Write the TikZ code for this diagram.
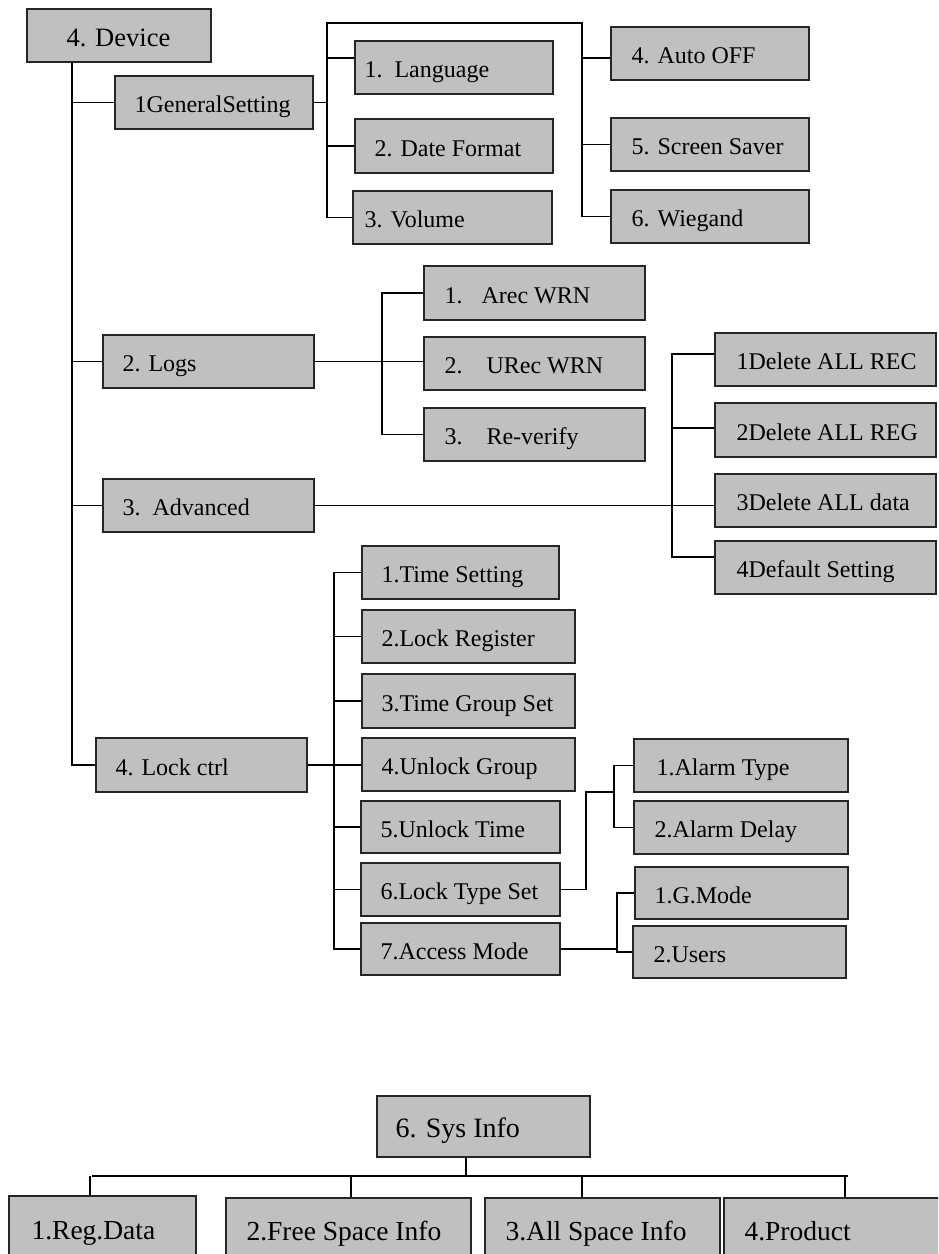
\documentclass[tikz,border=0pt]{standalone}
\usepackage{fontspec}
\setmainfont{Liberation Serif}
\definecolor{boxgray}{RGB}{192,192,192}
\tikzset{
  bx/.style={draw=black!85, fill=boxgray, line width=1.3pt, inner sep=0pt},
  lbl/.style={inner sep=0pt, font=\fontsize{24}{28}\selectfont},
  con/.style={line width=1.1pt, black},
  conb/.style={line width=1.7pt, black},
}
% name, x1, y1, x2, y2, inset, text, baseline offset, label style
\newcommand\gbox[9]{%
  \node[bx, minimum width={(#4-#2)*1pt}, minimum height={(#5-#3)*1pt}] (#1) at ({(#2+#4)/2},{(#3+#5)/2}) {};
  \node[lbl, anchor=base west, #9] (#1t) at ([xshift=#6pt, yshift={-(#8)*1pt}]#1.west) {#7};}
\begin{document}
\begin{tikzpicture}[x=1pt, y=-1pt]
\useasboundingbox (0,0) rectangle (938,1254);
\clip (0,0) rectangle (938,1254);
% boxes
\gbox{dev}{27}{9}{211}{62}{40}{4. Device}{10.5}{font=\fontsize{26.5}{30}\selectfont}
\gbox{gs}{115}{76}{313}{129}{20}{1GeneralSetting}{10}{}
\gbox{lang}{355}{41}{553}{94}{10}{1.~~Language}{10}{}
\gbox{date}{355}{119}{553}{173}{20}{2. Date Format}{10}{}
\gbox{vol}{353}{191}{552}{244}{12}{3. Volume}{10}{}
\gbox{auto}{611}{27}{809}{80}{21}{4. Auto OFF}{10}{}
\gbox{scr}{611}{118}{809}{171}{21}{5. Screen Saver}{10}{}
\gbox{wie}{611}{190}{809}{243}{21}{6. Wiegand}{10}{}
\gbox{logs}{103}{335}{314}{388}{20}{2. Logs}{10}{}
\gbox{arec}{424}{266}{645}{320}{21}{1.\hspace{19pt}Arec WRN}{10}{}
\gbox{urec}{424}{337}{645}{390}{21}{2.\hspace{24pt}URec WRN}{10}{}
\gbox{rev}{424}{408}{645}{461}{21}{3.\hspace{24pt}Re-verify}{10}{}
\gbox{adv}{103}{479}{314}{532}{20}{3.~~Advanced}{10}{}
\gbox{drec}{715}{333}{936}{386}{22}{1Delete ALL REC}{10}{}
\gbox{dreg}{715}{403}{936}{457}{22}{2Delete ALL REG}{10}{}
\gbox{ddat}{715}{474}{936}{527}{22}{3Delete ALL data}{10}{}
\gbox{ddef}{715}{541}{936}{594}{22}{4Default Setting}{10}{}
\gbox{lock}{96}{738}{307}{792}{20}{4. Lock ctrl}{10}{}
\gbox{ts}{362}{546}{559}{599}{20}{1.Time Setting}{10}{}
\gbox{lr}{362}{610}{575}{663}{20}{2.Lock Register}{10}{}
\gbox{tg}{362}{674}{575}{728}{20}{3.Time Group Set}{10}{}
\gbox{ug}{362}{738}{575}{791}{20}{4.Unlock Group}{10}{}
\gbox{ut}{361}{801}{560}{853}{20}{5.Unlock Time}{10}{}
\gbox{lts}{361}{863}{560}{916}{20}{6.Lock Type Set}{10}{}
\gbox{am}{361}{923}{560}{975}{20}{7.Access Mode}{10}{}
\gbox{atype}{634}{739}{848}{792}{23}{1.Alarm Type}{10}{}
\gbox{adelay}{634}{801}{848}{854}{21}{2.Alarm Delay}{10}{}
\gbox{gm}{635}{867}{848}{919}{20}{1.G.Mode}{10}{}
\gbox{us}{633}{926}{846}{978}{21}{2.Users}{10}{}
\gbox{si}{377}{1096}{590}{1157}{19}{6. Sys Info}{10.5}{font=\fontsize{28}{32}\selectfont}
\gbox{rd}{9}{1196}{196}{1290}{23}{1.Reg.Data}{-4}{font=\fontsize{27.5}{31}\selectfont}
\gbox{fsp}{226}{1198}{471}{1290}{21}{2.Free Space Info}{-4}{font=\fontsize{27.5}{31}\selectfont}
\gbox{asp}{485}{1198}{720}{1290}{21}{3.All Space Info}{-4}{font=\fontsize{27.5}{31}\selectfont}
\gbox{prod}{724}{1198}{960}{1290}{21}{4.Product}{-4}{font=\fontsize{27.5}{31}\selectfont}
% trunk
\coordinate (tr) at (72,0);
\draw[con] (dev.south -| tr) |- (lock.west);
\foreach \n in {gs,logs,adv} \draw[con] (tr |- \n.west) -- (\n.west);
% general setting
\coordinate (gl) at (327,23);
\coordinate (gr) at (582,23);
\coordinate (g58) at (0,58);
\draw[con] (gs.east) -- (gs.east -| gl);
\draw[con] (gl |- vol.west) -- (gl) -- (gr) -- (gr |- wie.west);
\draw[con] (gl |- g58) -- (lang.west |- g58);
\draw[con] (gl |- date.west) -- (date.west);
\draw[con] (gl |- vol.west) -- (vol.west);
\draw[con] (gr |- g58) -- (auto.west |- g58);
\draw[con] (gr |- scr.west) -- (scr.west);
\draw[con] (gr |- wie.west) -- (wie.west);
% logs
\coordinate (lb) at (382,0);
\draw[conb] (logs.east) -- (logs.east -| urec.west);
\draw[conb] (arec.west) -- (arec.west -| lb) -- (lb |- rev.west) -- (rev.west);
% advanced
\coordinate (ab1) at (672,354);
\coordinate (ab2) at (672,428);
\coordinate (ab4) at (672,557);
\draw[conb] (adv.east) -- (adv.east -| ddat.west);
\draw[conb] (ab1 -| drec.west) -- (ab1) -- (ab4) -- (ab4 -| ddef.west);
\draw[conb] (ab2) -- (ab2 -| dreg.west);
% lock ctrl
\coordinate (kb) at (334,0);
\draw[conb] (lock.east) -- (lock.east -| ug.west);
\draw[conb] (ts.west) -- (ts.west -| kb) -- (kb |- am.west) -- (am.west);
\foreach \n in {lr,tg,ug,ut,lts} \draw[conb] (kb |- \n.west) -- (\n.west);
% lock type set
\coordinate (lt1) at (586,792);
\coordinate (lt2) at (614,792);
\draw[conb] (lts.east) -| (lt1) -- (lt2);
\draw[conb] (atype.west) -- (atype.west -| lt2) -- (lt2 |- adelay.west) -- (adelay.west);
% access mode
\coordinate (amb) at (617,0);
\draw[con] (am.east) -- (am.east -| amb);
\draw[conb] (gm.west) -- (gm.west -| amb) -- (amb |- us.west) -- (us.west);
% sys info
\coordinate (sv) at (466,1176);
\coordinate (hl) at (92,1176);
\coordinate (hr) at (848,1176);
\coordinate (d1) at (90,1176);
\coordinate (d2) at (351,1176);
\coordinate (d3) at (582,1176);
\coordinate (d4) at (845,1176);
\draw[con] (hl) -- (hr);
\draw[conb] (si.south -| sv) -- (sv);
\draw[con] (d1) -- (d1 |- rd.north);
\draw[con] (d2) -- (d2 |- fsp.north);
\draw[con] (d3) -- (d3 |- asp.north);
\draw[con] (d4) -- (d4 |- prod.north);
\end{tikzpicture}
\end{document}
